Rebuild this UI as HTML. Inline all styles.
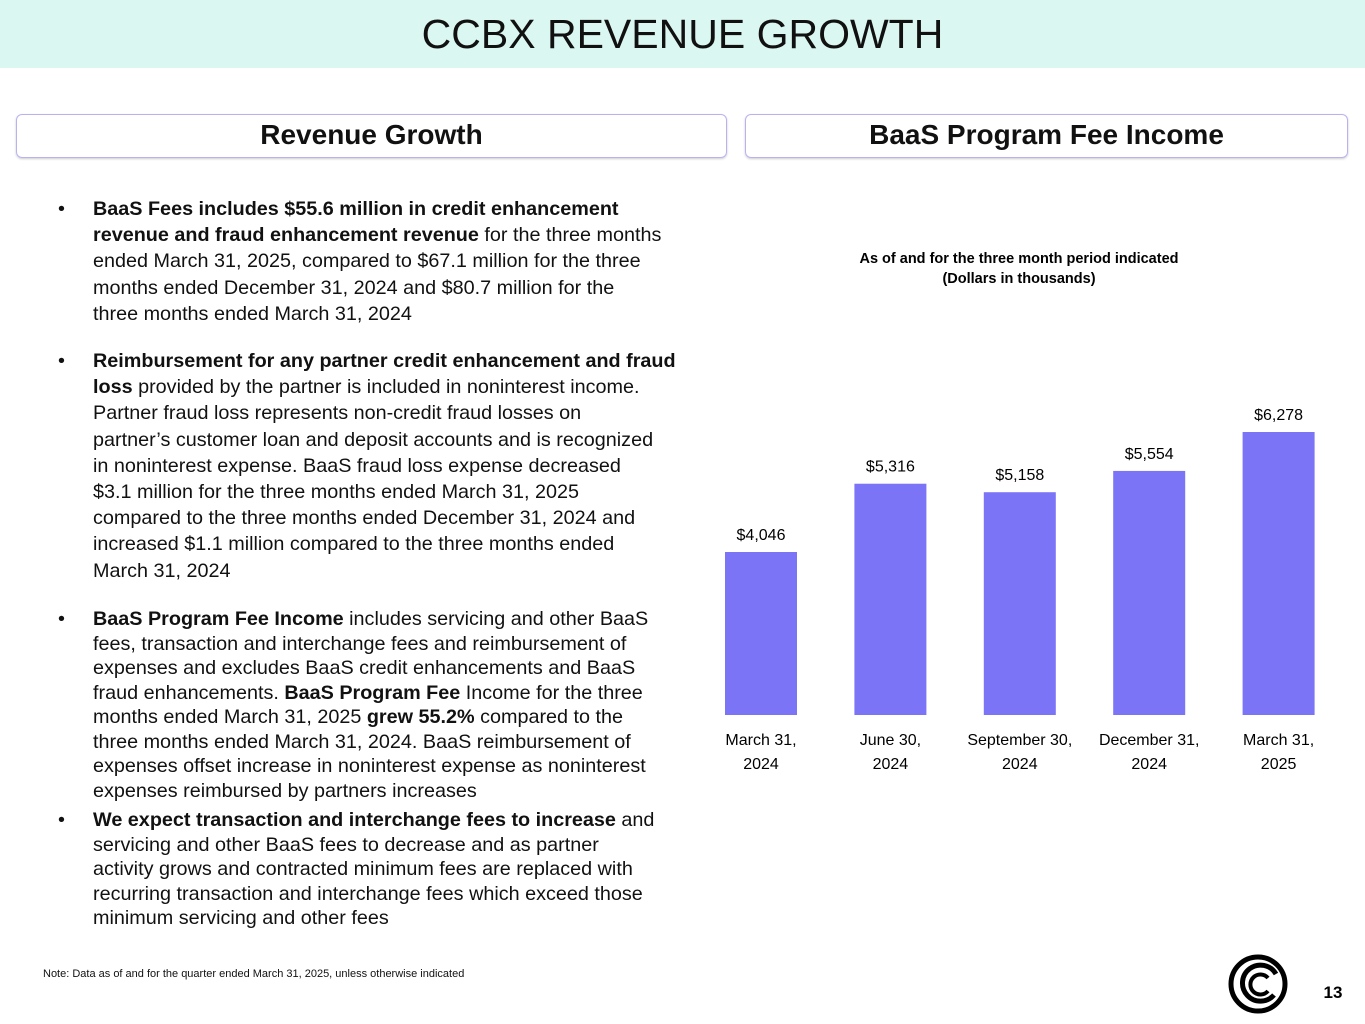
<!DOCTYPE html>
<html><head><meta charset="utf-8"><style>
body{margin:0;width:1365px;height:1024px;position:relative;background:#fff;font-family:"Liberation Sans",sans-serif;overflow:hidden;color:#111}
.banner{position:absolute;left:0;top:0;width:1365px;height:68px;background:#dbf7f1;text-align:center;font-size:41px;line-height:68px;color:#111}
.hbox{position:absolute;top:114px;height:42px;border:1.5px solid #b8b3f0;border-radius:6px;text-align:center;font-weight:bold;font-size:28px;line-height:40px;box-shadow:0 1px 2px #ccc}
.b{position:absolute;left:58px;width:680px;padding-left:35px;font-size:19.8px;white-space:nowrap;box-sizing:border-box}
.b:before{content:"•";position:absolute;left:0;top:0}
.note{position:absolute;left:43px;top:968px;font-size:11px}
</style></head><body>
<div class="banner">CCBX REVENUE GROWTH</div>
<div class="hbox" style="left:16px;width:709px">Revenue Growth</div>
<div class="hbox" style="left:745px;width:601px">BaaS Program Fee Income</div>
<div class="b" style="top:196px;line-height:26.2px"><b>BaaS Fees includes $55.6 million in credit enhancement</b><br><b>revenue and fraud enhancement revenue</b> for the three months<br>ended March 31, 2025, compared to $67.1 million for the three<br>months ended December 31, 2024 and $80.7 million for the<br>three months ended March 31, 2024</div>
<div class="b" style="top:348px;line-height:26.2px"><b>Reimbursement for any partner credit enhancement and fraud</b><br><b>loss</b> provided by the partner is included in noninterest income.<br>Partner fraud loss represents non-credit fraud losses on<br>partner’s customer loan and deposit accounts and is recognized<br>in noninterest expense.  BaaS fraud loss expense decreased<br>$3.1 million for the three months ended March 31, 2025<br>compared to the three months ended December 31, 2024 and<br>increased $1.1 million compared to the three months ended<br>March 31, 2024</div>
<div class="b" style="top:607px;line-height:24.5px"><b>BaaS Program Fee Income</b> includes servicing and other BaaS<br>fees, transaction and  interchange fees and reimbursement of<br>expenses and excludes BaaS credit enhancements and BaaS<br>fraud enhancements.  <b>BaaS Program Fee</b> Income for the three<br>months ended March 31, 2025 <b>grew 55.2%</b> compared to the<br>three months ended March 31, 2024.  BaaS reimbursement of<br>expenses offset increase in noninterest expense as noninterest<br>expenses reimbursed by partners increases</div>
<div class="b" style="top:808px;line-height:24.5px"><b>We expect transaction and interchange fees to increase</b> and<br>servicing and other BaaS fees to decrease and as partner<br>activity grows and contracted minimum fees are replaced with<br>recurring transaction and interchange fees which exceed those<br>minimum servicing and other fees</div>
<div class="note">Note:  Data as of and for the quarter ended March 31, 2025, unless otherwise indicated</div>
<svg style="position:absolute;left:0;top:0" width="1365" height="1024">
<text x="1019" y="263" text-anchor="middle" font-size="14.5" font-weight="bold">As of and for the three month period indicated</text>
<text x="1019" y="283" text-anchor="middle" font-size="14.5" font-weight="bold">(Dollars in thousands)</text>
<g id="bars"></g>
<g>
<circle cx="1258" cy="984" r="27" fill="none" stroke="#000" stroke-width="5"/>
<path d="M1276 974 A18 18 0 1 0 1274 995" fill="none" stroke="#000" stroke-width="5"/>
<path d="M1268 978 A10 10 0 1 0 1268 991" fill="none" stroke="#000" stroke-width="4"/>
</g>
<text x="1333" y="998" text-anchor="middle" font-size="17" font-weight="bold">13</text>
</svg>
<script>
const categories1=["March 31,","June 30,","September 30,","December 31,","March 31,"];
const categories2=["2024","2024","2024","2024","2025"];
const values=[4046,5316,5158,5554,6278];
const labels=["$4,046","$5,316","$5,158","$5,554","$6,278"];
const ns="http://www.w3.org/2000/svg";
const g=document.getElementById('bars');
const base=715,vmin=1014,scale=0.05376;
const y=v=>base-(v-vmin)*scale;
const x=i=>761+i*129.4;
values.forEach((v,i)=>{
 const r=document.createElementNS(ns,'rect');
 
 
 r.setAttribute('x',x(i)-36);r.setAttribute('width',72);
 r.setAttribute('y',y(v));r.setAttribute('height',base-y(v));r.setAttribute('fill','#7b74f7');
 g.appendChild(r);
 const t=document.createElementNS(ns,'text');
 
 
 t.setAttribute('x',x(i));t.setAttribute('y',y(v)-12);t.setAttribute('text-anchor','middle');t.setAttribute('font-size','16');
 t.textContent=labels[i];g.appendChild(t);
 [categories1[i],categories2[i]].forEach((s,k)=>{
  const c=document.createElementNS(ns,'text');
  
  
  c.setAttribute('x',x(i));c.setAttribute('y',745+k*24);c.setAttribute('text-anchor','middle');c.setAttribute('font-size','16');
  c.textContent=s;g.appendChild(c);
 });
});
</script>
</body></html>
